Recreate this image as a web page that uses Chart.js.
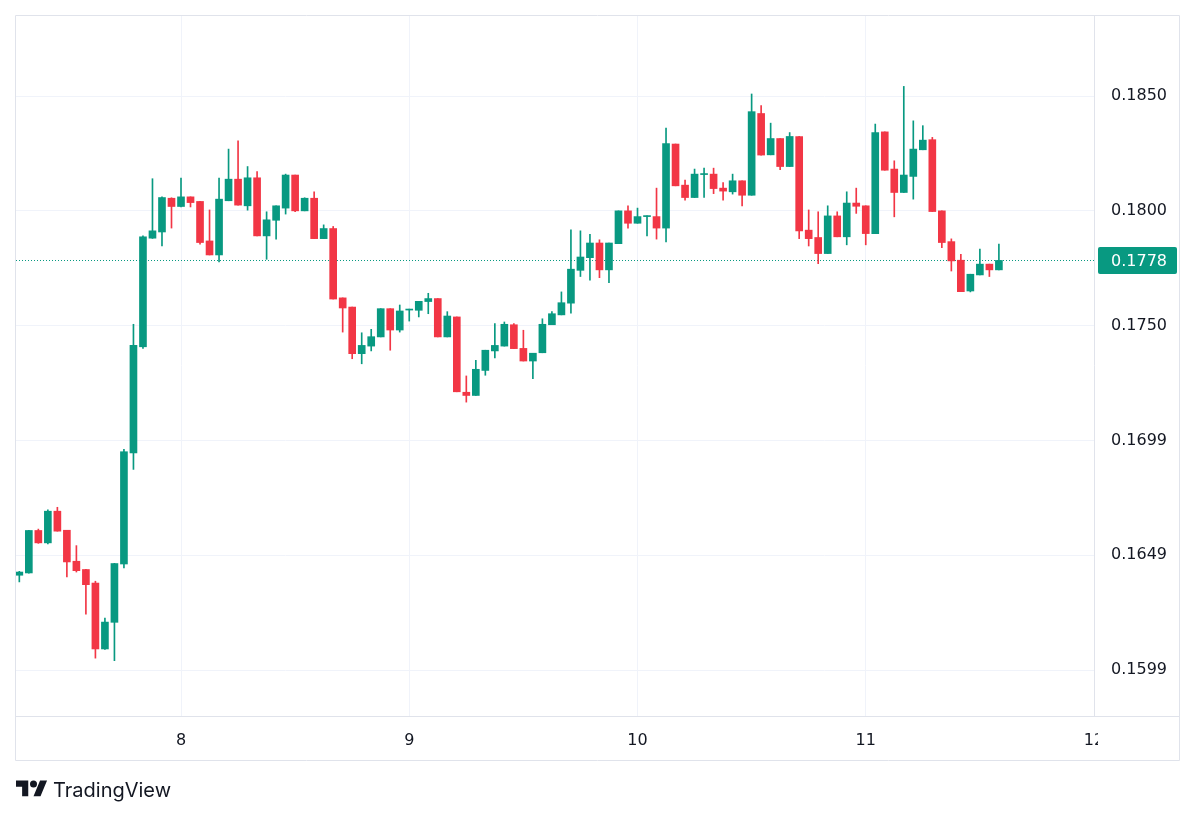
<!DOCTYPE html>
<html>
<head>
<meta charset="utf-8">
<script src="https://cdn.jsdelivr.net/npm/chart.js@4.4.1/dist/chart.umd.min.js"></script>
<style>
  html, body { margin: 0; padding: 0; background: #fff; }
  #wrap { position: relative; width: 1200px; height: 817px; }
  #brand-logo { position: absolute; left: 16px; top: 777px; }
  #brand-text {
    position: absolute; left: 53px; top: 780px;
    font: 400 20px/20px Inter, "Noto Sans", sans-serif; color: #131722;
  }
</style>
</head>
<body>
<div id="wrap">
  <canvas id="chart" width="1200" height="817"></canvas>
  <svg id="brand-logo" width="31.5" height="24.5" viewBox="0 0 36 28" fill="#131722">
    <path d="M14 22H7V11H0V4h14v18zM28 22h-8l7.5-18h8L28 22z"/>
    <circle cx="20" cy="8" r="4"/>
  </svg>
  <span id="brand-text">TradingView</span>
</div>
<script>
// hourly candles, first one is day 7 07:00
const firstHour = 7;

const dayTicks = [24, 48, 72, 96, 120];
const dayLabels = ['8', '9', '10', '11', '12'];

const priceTicks = [0.16, 0.165, 0.17, 0.175, 0.18, 0.185];
const priceLabels = ['0.1599', '0.1649', '0.1699', '0.1750', '0.1800', '0.1850'];

const opens = [
  0.16413, 0.16423, 0.16608, 0.16554, 0.16692, 0.16609, 0.16474, 0.16438, 0.16379, 0.16092,
  0.16208, 0.16462, 0.16946, 0.17408, 0.17881, 0.17908, 0.18055, 0.18019, 0.18061, 0.18041,
  0.17869, 0.17808, 0.18044, 0.18138, 0.18022, 0.18144, 0.17891, 0.17959, 0.18012, 0.18156,
  0.18000, 0.18055, 0.17879, 0.17923, 0.17621, 0.17581, 0.17378, 0.17411, 0.17451, 0.17574,
  0.17481, 0.17568, 0.17567, 0.17605, 0.17618, 0.17451, 0.17538, 0.17210, 0.17196, 0.17305,
  0.17390, 0.17411, 0.17504, 0.17401, 0.17346, 0.17382, 0.17504, 0.17547, 0.17598, 0.17741,
  0.17796, 0.17860, 0.17743, 0.17857, 0.18000, 0.17946, 0.17975, 0.17975, 0.17925, 0.18291,
  0.18112, 0.18058, 0.18158, 0.18160, 0.18099, 0.18083, 0.18131, 0.18068, 0.18424, 0.18244,
  0.18315, 0.18193, 0.18324, 0.17916, 0.17884, 0.17814, 0.17978, 0.17887, 0.18034, 0.18022,
  0.17901, 0.18344, 0.18182, 0.18080, 0.18150, 0.18266, 0.18310, 0.18000, 0.17866, 0.17785,
  0.17651, 0.17721, 0.17768, 0.17743,
];
const highs = [
  0.16430, 0.16609, 0.16614, 0.16698, 0.16709, 0.16609, 0.16542, 0.16439, 0.16387, 0.16227,
  0.16465, 0.16961, 0.17506, 0.17891, 0.18140, 0.18061, 0.18057, 0.18143, 0.18061, 0.18041,
  0.18004, 0.18143, 0.18269, 0.18305, 0.18193, 0.18171, 0.17996, 0.18022, 0.18160, 0.18156,
  0.18057, 0.18083, 0.17939, 0.17932, 0.17621, 0.17581, 0.17469, 0.17484, 0.17574, 0.17574,
  0.17590, 0.17572, 0.17606, 0.17641, 0.17618, 0.17561, 0.17538, 0.17281, 0.17349, 0.17393,
  0.17509, 0.17516, 0.17509, 0.17480, 0.17380, 0.17530, 0.17561, 0.17647, 0.17917, 0.17913,
  0.17898, 0.17874, 0.17860, 0.18000, 0.18022, 0.18012, 0.17978, 0.18099, 0.18361, 0.18291,
  0.18134, 0.18182, 0.18186, 0.18186, 0.18123, 0.18160, 0.18131, 0.18509, 0.18458, 0.18382,
  0.18315, 0.18341, 0.18324, 0.18004, 0.17996, 0.18022, 0.17996, 0.18083, 0.18099, 0.18022,
  0.18378, 0.18344, 0.18218, 0.18542, 0.18392, 0.18371, 0.18320, 0.18000, 0.17878, 0.17811,
  0.17724, 0.17833, 0.17768, 0.17855,
];
const lows = [
  0.16384, 0.16422, 0.16552, 0.16549, 0.16605, 0.16406, 0.16427, 0.16244, 0.16052, 0.16090,
  0.16041, 0.16445, 0.16874, 0.17401, 0.17880, 0.17847, 0.17925, 0.18017, 0.18017, 0.17855,
  0.17808, 0.17778, 0.18044, 0.18025, 0.18003, 0.17891, 0.17789, 0.17877, 0.17986, 0.17996,
  0.18000, 0.17879, 0.17879, 0.17616, 0.17472, 0.17356, 0.17334, 0.17390, 0.17451, 0.17393,
  0.17472, 0.17520, 0.17538, 0.17552, 0.17451, 0.17451, 0.17212, 0.17167, 0.17196, 0.17284,
  0.17360, 0.17411, 0.17400, 0.17346, 0.17269, 0.17382, 0.17504, 0.17547, 0.17554, 0.17714,
  0.17698, 0.17709, 0.17687, 0.17857, 0.17925, 0.17946, 0.17891, 0.17877, 0.17865, 0.18109,
  0.18047, 0.18058, 0.18058, 0.18075, 0.18047, 0.18073, 0.18022, 0.18068, 0.18243, 0.18244,
  0.18179, 0.18193, 0.17879, 0.17847, 0.17770, 0.17814, 0.17887, 0.17852, 0.17989, 0.17852,
  0.17901, 0.18177, 0.17974, 0.18080, 0.18051, 0.18266, 0.17997, 0.17840, 0.17738, 0.17648,
  0.17647, 0.17721, 0.17714, 0.17743,
];
const closes = [
  0.16427, 0.16608, 0.16554, 0.16692, 0.16605, 0.16471, 0.16433, 0.16372, 0.16092, 0.16209,
  0.16464, 0.16951, 0.17414, 0.17887, 0.17913, 0.18058, 0.18019, 0.18061, 0.18036, 0.17862,
  0.17808, 0.18051, 0.18138, 0.18025, 0.18144, 0.17891, 0.17961, 0.18022, 0.18156, 0.18000,
  0.18055, 0.17879, 0.17923, 0.17616, 0.17577, 0.17378, 0.17414, 0.17452, 0.17574, 0.17481,
  0.17564, 0.17570, 0.17606, 0.17618, 0.17451, 0.17542, 0.17212, 0.17196, 0.17310, 0.17393,
  0.17414, 0.17506, 0.17400, 0.17346, 0.17380, 0.17506, 0.17552, 0.17600, 0.17746, 0.17799,
  0.17860, 0.17743, 0.17860, 0.18000, 0.17946, 0.17975, 0.17977, 0.17925, 0.18293, 0.18109,
  0.18058, 0.18160, 0.18160, 0.18097, 0.18086, 0.18131, 0.18068, 0.18432, 0.18243, 0.18315,
  0.18193, 0.18324, 0.17913, 0.17879, 0.17814, 0.17978, 0.17887, 0.18034, 0.18020, 0.17901,
  0.18341, 0.18177, 0.18080, 0.18156, 0.18269, 0.18308, 0.17997, 0.17862, 0.17782, 0.17648,
  0.17724, 0.17768, 0.17743, 0.17784,
];

const UP = '#089981';
const DOWN = '#f23645';
const TEXT = '#131722';
const GRID = '#f0f3fa';
const FRAME = '#e0e3eb';
const FONT = { family: '"DejaVu Sans", sans-serif', size: 16 };

const candleColor = (ctx) => (closes[ctx.dataIndex] >= opens[ctx.dataIndex] ? UP : DOWN);

const bodies = opens.map((o, i) => ({ x: firstHour + i, y: [o, closes[i]] }));
const wicks = opens.map((o, i) => ({ x: firstHour + i, y: [lows[i], highs[i]] }));
const lastClose = closes[closes.length - 1];

// dotted last-price line, price tag, frame like the TradingView widget
const FramePlugin = {
  id: 'tvFrame',
  beforeDatasetsDraw(chart) {
    const { ctx, chartArea: a, scales: { y } } = chart;
    const py = Math.round(y.getPixelForValue(lastClose)) + 0.5;
    ctx.save();
    ctx.strokeStyle = UP;
    ctx.lineWidth = 1;
    ctx.setLineDash([1, 2]);
    ctx.beginPath();
    ctx.moveTo(a.left, py);
    ctx.lineTo(a.right, py);
    ctx.stroke();
    ctx.restore();
  },
  afterDraw(chart) {
    const { ctx, chartArea: a, scales: { x, y } } = chart;
    ctx.save();
    // the last day label is cut by the price scale
    ctx.fillStyle = '#fff';
    ctx.fillRect(a.right + 4, a.bottom + 1, y.right - a.right - 4, x.bottom - a.bottom - 1);

    ctx.strokeStyle = FRAME;
    ctx.lineWidth = 1;
    ctx.beginPath();
    ctx.rect(a.left - 0.5, a.top + 0.5, y.right - a.left, x.bottom - a.top);
    ctx.moveTo(a.left, a.bottom + 0.5);
    ctx.lineTo(y.right, a.bottom + 0.5);
    ctx.moveTo(a.right + 0.5, a.top);
    ctx.lineTo(a.right + 0.5, a.bottom);
    ctx.stroke();

    const py = y.getPixelForValue(lastClose);
    ctx.fillStyle = UP;
    ctx.beginPath();
    ctx.roundRect(a.right + 4, py - 13.5, y.right - a.right - 7, 27, 2);
    ctx.fill();
    ctx.fillStyle = '#fff';
    ctx.font = `${FONT.size}px ${FONT.family}`;
    ctx.textBaseline = 'middle';
    ctx.fillText(lastClose.toFixed(4), a.right + 17, py + 1);
    ctx.restore();
  },
};

new Chart(document.getElementById('chart'), {
  type: 'bar',
  data: {
    datasets: [
      {
        data: wicks,
        barThickness: 1,
        grouped: false,
        order: 2,
        backgroundColor: candleColor,
      },
      {
        data: bodies,
        barThickness: 7,
        minBarLength: 1,
        grouped: false,
        order: 1,
        backgroundColor: candleColor,
      },
    ],
  },
  plugins: [FramePlugin],
  options: {
    responsive: false,
    animation: false,
    events: [],
    layout: { padding: { left: 16, top: 15, right: 20, bottom: 57 } },
    plugins: {
      legend: { display: false },
      tooltip: { enabled: false },
    },
    scales: {
      x: {
        type: 'linear',
        offset: false,
        min: 6.65,
        max: 120.0,
        afterBuildTicks(scale) {
          scale.ticks = dayTicks.map((v) => ({ value: v }));
        },
        afterFit(scale) {
          scale.height = 44;
          scale.paddingLeft = 0;
          scale.paddingRight = 0;
        },
        ticks: {
          callback: (v) => dayLabels[dayTicks.indexOf(v)],
          autoSkip: false,
          maxRotation: 0,
          padding: 15,
          color: TEXT,
          font: FONT,
        },
        grid: { color: GRID, drawTicks: false, offset: false },
        border: { display: false },
      },
      y: {
        position: 'right',
        min: 0.158,
        max: 0.18853,
        afterBuildTicks(scale) {
          scale.ticks = priceTicks.map((v) => ({ value: v }));
        },
        afterFit(scale) {
          scale.width = 86;
          scale.paddingTop = 0;
          scale.paddingBottom = 0;
        },
        ticks: {
          callback: (v) => priceLabels[priceTicks.indexOf(v)],
          padding: 17,
          color: TEXT,
          font: FONT,
        },
        grid: { color: GRID, drawTicks: false },
        border: { display: false },
      },
    },
  },
});
</script>
</body>
</html>
